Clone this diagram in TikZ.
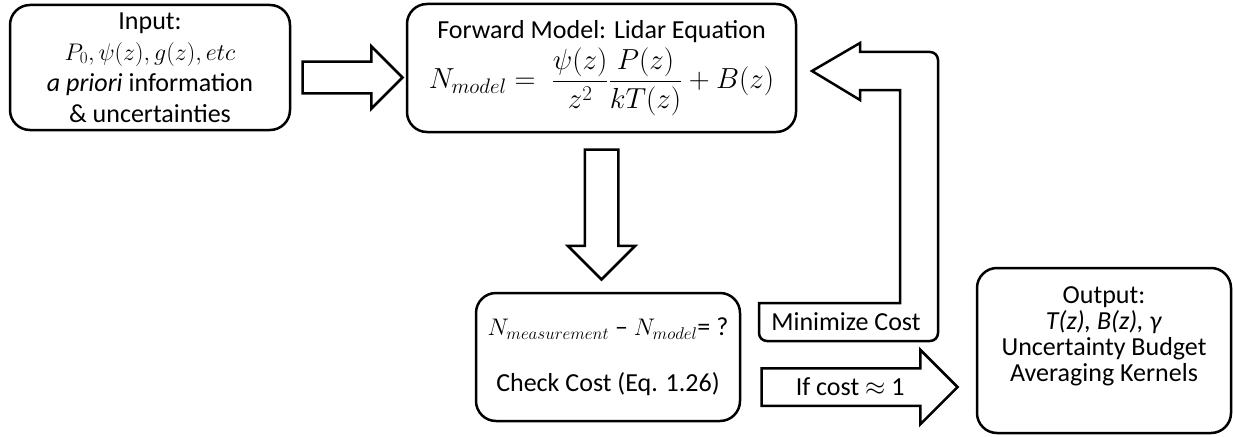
\RequirePackage{fix-cm}
\documentclass[tikz,border=0pt]{standalone}
\usepackage{amsmath}
\usepackage{fontspec}
\setmainfont{Carlito}
\usepackage{tikz}
\usetikzlibrary{shapes.arrows,positioning}
\DeclareMathSizes{26}{26}{19}{15}
\DeclareMathSizes{29}{29}{21}{16}
\DeclareMathSizes{24}{24}{17}{13}
\newcommand{\inmath}[1]{{\fontsize{24}{26}\selectfont$#1$}}

\begin{document}
\begin{tikzpicture}[x=1pt,y=-1pt,line width=2.5pt,
    every node/.style={font=\fontsize{26}{26}\selectfont}]
  \tikzstyle{box}=[draw,rounded corners=20pt,align=center,inner sep=0pt]
  \tikzstyle{bigarrow}=[draw,single arrow,inner sep=0pt,text depth=0pt]

  \useasboundingbox (0,0) rectangle (1233,436);

  % boxes
  \node[box,minimum width=280pt,minimum height=125pt,
        font=\fontsize{26}{31}\selectfont] (input) at (150,67.5)
    {Input:\\ {\fontsize{24}{31}\selectfont$P_0, \psi(z), g(z), etc$}\\
     \textit{a priori} information\\ \& uncertainties};
  \node[box,minimum width=389pt,minimum height=128pt] (forward) at (601.5,68)
    {Forward Model: Lidar Equation\\[4pt]
     {\fontsize{29}{29}\selectfont
      $N_{model} =\; \dfrac{\psi(z)}{z^2}\dfrac{P(z)}{kT(z)} + B(z)$}};
  \node[box,minimum width=264pt,minimum height=128pt] (check) at (608,357)
    {\inmath{N_{measurement}} -- \inmath{N_{model}}= ?\\[30pt] Check Cost (Eq. 1.26)};
  \node[box,minimum width=254pt,minimum height=165pt] (output) at (1104,350.5) {};
  \node[align=center] (outtext) at ([yshift=14pt]output.center)
    {Output:\\ \textit{T(z), B(z), γ}\\ Uncertainty Budget\\ Averaging Kernels};

  % block arrows
  \node[bigarrow,anchor=tail,text height=29pt,minimum width=60pt,
        single arrow head extend=15.5pt,minimum height=100pt]
    (toforward) at ([xshift=10pt,yshift=-10pt]input.east) {};
  \node[bigarrow,anchor=tail,rotate=-90,text height=31pt,minimum width=65pt,
        single arrow head extend=17pt,minimum height=130pt]
    (tocheck) at ([yshift=-15pt]forward.south) {};
  \node[bigarrow,anchor=tail,text height=26pt,text depth=9pt,minimum width=72pt,
        single arrow head extend=18.5pt,minimum height=196pt]
    (tooutput) at ([xshift=19pt,yshift=-30pt]check.east) {If cost $\approx$ 1};

  % feedback arrow
  \draw (759,303) -- (900,303) -- (900,90) -- (860,90) -- (860,100)
    -- (812,71) -- (860,43) -- (860,52) [rounded corners=8pt] -- (938,52)
    -- (938,341) -- (759,341) [sharp corners] -- cycle;
  \node (mincost) at (846,322) {Minimize Cost};
\end{tikzpicture}
\end{document}
